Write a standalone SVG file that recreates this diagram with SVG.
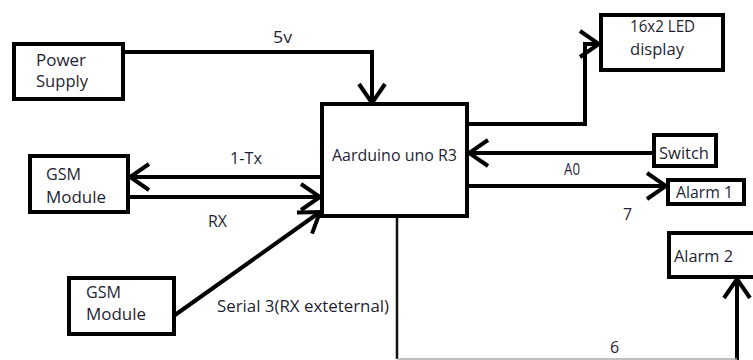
<svg xmlns="http://www.w3.org/2000/svg" width="753" height="360" viewBox="0 0 753 360">
<style>
.box{fill:#fff;stroke:#000;stroke-width:4}
.ln{fill:none;stroke:#000;stroke-width:4}
.t{font-family:"Open Sans","Liberation Sans",sans-serif;font-size:16px;fill:#1f1f33}
</style>
<defs>
<marker id="ah" viewBox="0 0 24 30" refX="21" refY="15" markerWidth="24" markerHeight="30" markerUnits="userSpaceOnUse" orient="auto">
<path d="M2,2 L21,15 L2,28" fill="none" stroke="#000" stroke-width="4"/>
</marker>
</defs>
<rect width="753" height="360" fill="#fff"/>
<g id="connectors">
<path class="ln" d="M123,52 H372 V103" marker-end="url(#ah)"/>
<path class="ln" d="M322,177 H130" marker-end="url(#ah)"/>
<path class="ln" d="M128,197 H320" marker-end="url(#ah)"/>
<path class="ln" d="M175,315 L320,212" marker-end="url(#ah)"/>
<path class="ln" d="M467,124 H585 V44 H599" marker-end="url(#ah)"/>
<path class="ln" d="M654,153 H469" marker-end="url(#ah)"/>
<path class="ln" d="M467,186 H666" marker-end="url(#ah)"/>
<path class="ln" d="M737,360 V279" marker-end="url(#ah)"/>
<path d="M397,216 V359" fill="none" stroke="#111" stroke-width="2.5"/>
<path d="M397,359 H737" fill="none" stroke="#aaa" stroke-width="1.5"/>
<text class="t" x="273" y="43" textLength="19" lengthAdjust="spacingAndGlyphs">5v</text>
<text class="t" x="230" y="164" textLength="32" lengthAdjust="spacingAndGlyphs">1-Tx</text>
<text class="t" x="208" y="227" textLength="19" lengthAdjust="spacingAndGlyphs">RX</text>
<text class="t" x="217" y="312" textLength="172" lengthAdjust="spacingAndGlyphs">Serial 3(RX exteternal)</text>
<text class="t" x="564" y="175" textLength="16" lengthAdjust="spacingAndGlyphs">A0</text>
<text class="t" x="623" y="220">7</text>
<text class="t" x="610" y="353">6</text>
</g>
<g id="power">
<rect class="box" x="14" y="44" width="109" height="55"/>
<text class="t" x="36" y="66" textLength="50" lengthAdjust="spacingAndGlyphs">Power</text>
<text class="t" x="36" y="87" textLength="52" lengthAdjust="spacingAndGlyphs">Supply</text>
</g>
<g id="gsm1">
<rect class="box" x="30" y="156" width="98" height="56"/>
<text class="t" x="46" y="180" textLength="35" lengthAdjust="spacingAndGlyphs">GSM</text>
<text class="t" x="46" y="203" textLength="60" lengthAdjust="spacingAndGlyphs">Module</text>
</g>
<g id="gsm2">
<rect class="box" x="69" y="278" width="105" height="56"/>
<text class="t" x="86" y="298" textLength="35" lengthAdjust="spacingAndGlyphs">GSM</text>
<text class="t" x="86" y="320" textLength="60" lengthAdjust="spacingAndGlyphs">Module</text>
</g>
<g id="arduino">
<rect class="box" x="322" y="104" width="145" height="112"/>
<text class="t" x="332" y="161" textLength="125" lengthAdjust="spacingAndGlyphs">Aarduino uno R3</text>
</g>
<g id="display">
<rect class="box" x="601" y="15" width="122" height="55"/>
<text class="t" x="630" y="32" textLength="65" lengthAdjust="spacingAndGlyphs">16x2 LED</text>
<text class="t" x="630" y="55" textLength="54" lengthAdjust="spacingAndGlyphs">display</text>
</g>
<g id="switch">
<rect class="box" x="654" y="135" width="62" height="31"/>
<text class="t" x="659" y="159" textLength="50" lengthAdjust="spacingAndGlyphs">Switch</text>
</g>
<g id="alarm1">
<rect class="box" x="668" y="180" width="76" height="24"/>
<text class="t" x="676" y="198" textLength="57" lengthAdjust="spacingAndGlyphs">Alarm 1</text>
</g>
<g id="alarm2">
<rect class="box" x="669" y="233" width="100" height="44"/>
<text class="t" x="674" y="262" textLength="59" lengthAdjust="spacingAndGlyphs">Alarm 2</text>
</g>
</svg>
